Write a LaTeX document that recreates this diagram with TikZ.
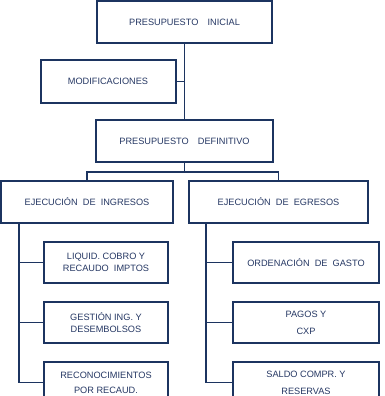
\documentclass[tikz,border=0pt]{standalone}
\usepackage{fontspec}
\setmainfont{Liberation Sans}
\definecolor{navyLine}{RGB}{28, 52, 96}
\definecolor{navyText}{RGB}{38, 56, 100}
\usetikzlibrary{positioning, calc}

\begin{document}
\begin{tikzpicture}[
      x=1pt, y=1pt,
      node distance=17pt and 15pt,
      box/.style={rectangle, draw=navyLine, line width=2pt, fill=white, inner sep=1pt,
        minimum height=41pt, align=center, text=navyText, font=\fontsize{9.2}{12}\selectfont},
      link/.style={draw=navyLine, line width=1.8pt}
    ]
      % marco de la figura
      \useasboundingbox (0,0) rectangle (384,-396);

      % nivel superior
      \node[box, minimum width=175pt, minimum height=42pt] (top) at (184.5,-22) {PRESUPUESTO\quad INICIAL};
      \node[box, minimum width=177pt, minimum height=42pt, below=75pt of top] (def) {PRESUPUESTO\quad DEFINITIVO};
      \coordinate (mid) at ($(top.south)!0.5!(def.north)$);
      \node[box, minimum width=135pt, minimum height=42pt, left=8pt of mid] (mod) {MODIFICACIONES};

      % ejecucion
      \node[box, minimum width=172pt, minimum height=42pt, below=17pt of def, xshift=-97.5pt] (ing) {EJECUCIÓN\ \ DE\ \ INGRESOS};
      \node[box, minimum width=179pt, minimum height=42pt, below=17pt of def, xshift=94pt] (egr) {EJECUCIÓN\ \ DE\ \ EGRESOS};

      % ramas de ingresos
      \node[box, minimum width=124pt, below right=17pt and 43pt of ing.south west] (liq) {LIQUID. COBRO Y\\RECAUDO\ \ IMPTOS};
      \node[box, minimum width=124pt, below=of liq] (ges) {GESTIÓN ING. Y\\DESEMBOLSOS};
      \node[box, minimum width=124pt, below=of ges] (rec) {RECONOCIMIENTOS\\[3pt]POR RECAUD.};

      % ramas de egresos
      \node[box, minimum width=146pt, below right=17pt and 44pt of egr.south west] (ord) {ORDENACIÓN\ \ DE\ \ GASTO};
      \node[box, minimum width=146pt, below=of ord] (pag) {PAGOS Y\\[5pt]CXP};
      \node[box, minimum width=146pt, below=of pag] (sal) {SALDO COMPR. Y\\[5pt]RESERVAS};

      % conectores
      \draw[link] (top) -- (def);
      \draw[link] (mod.east) -- (mod.east -| top.south);
      \coordinate (split) at ($(def.south)+(0,-9pt)$);
      \draw[link] (def.south) -- (split);
      \draw[link] (split) -| (ing.north);
      \draw[link] (split) -| (egr.north);

      \coordinate (ltrunk) at ([xshift=19pt]ing.south west);
      \foreach \c in {liq, ges, rec}
        \draw[link] (ltrunk) |- (\c.west);
      \coordinate (rtrunk) at ([xshift=18pt]egr.south west);
      \foreach \c in {ord, pag, sal}
        \draw[link] (rtrunk) |- (\c.west);
    \end{tikzpicture}
\end{document}
